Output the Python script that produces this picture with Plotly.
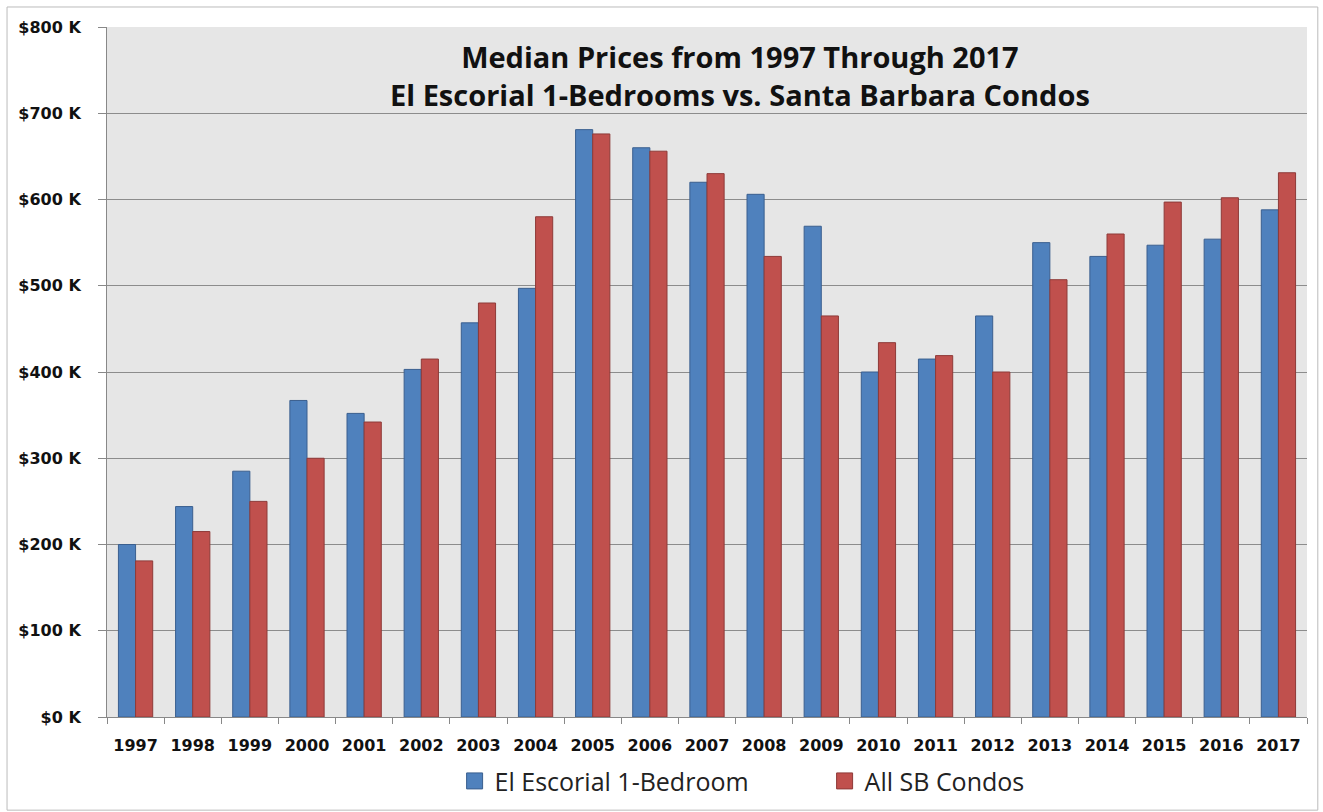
import plotly.graph_objects as go

years = [str(y) for y in range(1997, 2018)]
el_escorial = [200, 244, 285, 367, 352, 403, 457, 497, 681, 660, 620, 606, 569, 400, 415, 465, 550, 534, 547, 554, 588]
sb_condos = [181, 215, 250, 300, 342, 415, 480, 580, 676, 656, 630, 534, 465, 434, 419, 400, 507, 560, 597, 602, 631]
y_ticks = [0, 100, 200, 300, 400, 500, 600, 700, 800]
y_tick_text = ["$%d K" % v for v in y_ticks]

BLUE = "#4F81BD"
RED = "#C0504D"

fig = go.Figure()
fig.add_trace(go.Bar(x=years, y=el_escorial, name="El Escorial 1-Bedroom",
                     marker=dict(color=BLUE, line=dict(color="#3A5F8F", width=1)),
                     showlegend=False))
fig.add_trace(go.Bar(x=years, y=sb_condos, name="All SB Condos",
                     marker=dict(color=RED, line=dict(color="#8E3A38", width=1)),
                     showlegend=False))
# legend entries
fig.add_trace(go.Scatter(x=[None], y=[None], mode="markers", name="El Escorial 1-Bedroom",
                         marker=dict(symbol="square", size=16, color=BLUE, line=dict(color="#3A5F8F", width=1))))
fig.add_trace(go.Scatter(x=[None], y=[None], mode="markers", name="All SB Condos",
                         marker=dict(symbol="square", size=16, color=RED, line=dict(color="#8E3A38", width=1))))

fig.update_layout(
    width=1323, height=812,
    margin=dict(l=107, r=16, t=27, b=95, autoexpand=False),
    paper_bgcolor="white",
    plot_bgcolor="#E6E6E6",
    barmode="group",
    bargap=0.4,
    bargroupgap=0,
    showlegend=True,
    legend=dict(orientation="h", x=0.598, xanchor="center", y=-0.093, yanchor="middle",
                font=dict(family="Open Sans", size=25, color="#222222"),
                entrywidth=325, itemwidth=30, bgcolor="rgba(0,0,0,0)"),
    xaxis=dict(type="category", tickson="boundaries", ticks="outside", ticklen=6,
               tickcolor="#888888", showline=True, linecolor="#888888", linewidth=1,
               showgrid=False, ticklabelstandoff=14,
               tickfont=dict(family="DejaVu Sans", size=16, color="#111111", weight="bold")),
    yaxis=dict(range=[0, 800], tickmode="array", tickvals=y_ticks, ticktext=y_tick_text,
               ticks="outside", ticklen=8, tickcolor="#888888",
               showline=True, linecolor="#888888", linewidth=1,
               showgrid=True, gridcolor="#8C8C8C", gridwidth=1, zeroline=False,
               ticklabelstandoff=14,
               tickfont=dict(family="DejaVu Sans", size=16, color="#111111", weight="bold")),
    annotations=[dict(xref="paper", yref="paper", x=0.5275, y=0.93, xanchor="center", yanchor="middle",
                      text="<b>Median Prices from 1997 Through 2017<br>El Escorial 1-Bedrooms vs. Santa Barbara Condos</b>",
                      showarrow=False, font=dict(family="Open Sans", size=29, color="#111111"))],
    shapes=[dict(type="rect", xref="paper", yref="paper", x0=-0.0833, x1=1.009, y0=-0.135, y1=1.029,
                 line=dict(color="#BBBBBB", width=1), fillcolor="rgba(0,0,0,0)", layer="below")],
)

fig.write_html("out.html")
